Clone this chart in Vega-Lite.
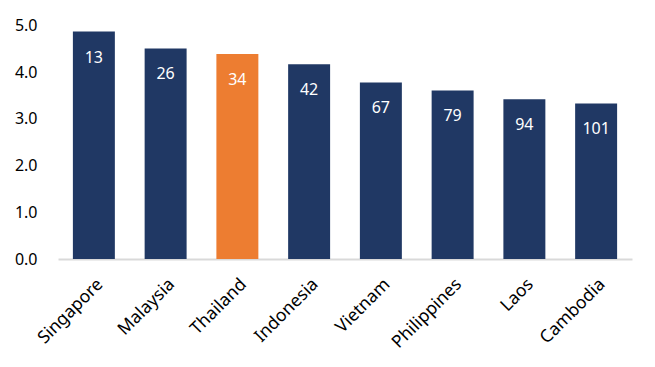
{
  "$schema": "https://vega.github.io/schema/vega-lite/v6.json",
  "width": 574,
  "height": 233.5,
  "autosize": {"type": "none"},
  "padding": {"left": 58, "top": 25.5, "right": 23, "bottom": 108},
  "background": "white",
  "config": {"view": {"stroke": null}, "font": "Noto Sans"},
  "data": {
    "values": [
      {"country": "Singapore", "value": 4.87, "rank": 13, "highlight": "no"},
      {"country": "Malaysia", "value": 4.51, "rank": 26, "highlight": "no"},
      {"country": "Thailand", "value": 4.39, "rank": 34, "highlight": "yes"},
      {"country": "Indonesia", "value": 4.17, "rank": 42, "highlight": "no"},
      {"country": "Vietnam", "value": 3.78, "rank": 67, "highlight": "no"},
      {"country": "Philippines", "value": 3.61, "rank": 79, "highlight": "no"},
      {"country": "Laos", "value": 3.42, "rank": 94, "highlight": "no"},
      {"country": "Cambodia", "value": 3.33, "rank": 101, "highlight": "no"}
    ]
  },
  "encoding": {
    "x": {
      "field": "country",
      "type": "nominal",
      "sort": null,
      "scale": {"paddingInner": 0.415, "paddingOuter": 0.2075},
      "axis": {
        "title": null,
        "labelAngle": -45,
        "labelFontSize": 17.5,
        "labelColor": "#000000",
        "labelPadding": 16,
        "ticks": false,
        "domainColor": "#d9d9d9",
        "domainWidth": 2
      }
    },
    "y": {
      "field": "value",
      "type": "quantitative",
      "scale": {"domain": [0, 5], "nice": false},
      "axis": {
        "title": null,
        "values": [0, 1, 2, 3, 4, 5],
        "format": ".1f",
        "grid": false,
        "domain": false,
        "ticks": false,
        "labelFontSize": 16,
        "labelColor": "#000000",
        "labelPadding": 21
      }
    }
  },
  "layer": [
    {
      "mark": {"type": "bar"},
      "encoding": {
        "color": {
          "field": "highlight",
          "type": "nominal",
          "scale": {"domain": ["no", "yes"], "range": ["#203864", "#ED7D31"]},
          "legend": null
        }
      }
    },
    {
      "mark": {"type": "text", "color": "white", "fontSize": 16, "baseline": "middle", "dy": 26},
      "encoding": {"text": {"field": "rank", "type": "quantitative"}}
    }
  ]
}
